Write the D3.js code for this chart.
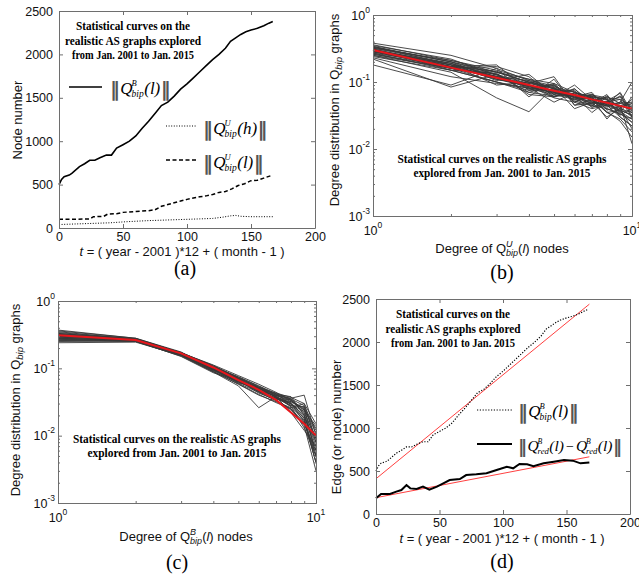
<!DOCTYPE html>
<html>
<head>
<meta charset="utf-8">
<script src="https://cdn.jsdelivr.net/npm/d3@7"></script>
<style>
  body { margin: 0; background: #fff; }
  svg { display: block; }
</style>
</head>
<body>
<div id="fig"></div>
<script>
// ---- data ----
// (a) node counts, t = months since Jan 2001
const nodeBipB = [[0,500],[2,560],[4,590],[8,610],[10,630],[16,707],[20,740],[24,780],[28,780],[32,810],[37,840],[41,840],[45,920],[50,960],[55,1000],[60,1060],[65,1150],[70,1230],[75,1320],[80,1410],[85,1450],[90,1520],[95,1600],[100,1660],[105,1730],[110,1800],[115,1870],[120,1940],[125,2000],[130,2070],[134,2150],[138,2190],[142,2230],[146,2260],[150,2280],[155,2300],[160,2330],[164,2360],[167,2380]];
const nodeBipUh = [[0,40],[10,45],[20,50],[30,55],[40,60],[50,70],[60,78],[70,85],[80,90],[90,95],[100,100],[110,105],[120,110],[128,125],[134,140],[138,145],[142,135],[150,130],[160,130],[167,130]];
const nodeBipUl = [[0,100],[10,100],[24,105],[27,130],[35,135],[38,160],[45,165],[50,180],[60,190],[70,200],[75,210],[80,250],[85,270],[90,290],[95,310],[100,330],[105,345],[110,360],[115,370],[120,385],[125,410],[130,420],[135,450],[140,490],[145,510],[150,545],[155,550],[160,575],[167,610]];
// (d) edges of the difference graph, plus the two red fits
const edgeRedDiff = [[0,182],[4,233],[11,233],[16,260],[20,279],[24,337],[27,298],[32,290],[37,318],[42,282],[48,318],[53,357],[58,395],[66,407],[71,453],[79,461],[87,473],[95,512],[103,550],[108,531],[113,581],[119,578],[124,555],[132,589],[140,608],[148,628],[155,620],[161,589],[168,600]];
const fitBipB = [[0,410],[168,2440]];
const fitRedDiff = [[0,190],[168,665]];

// (b),(c) degree distributions, one row per monthly snapshot
const degrees = [1,2,3,4,5,6,7,8,9,10];
const distUCurves = [
  [0.34,0.20,0.13,0.095,0.080,0.066,0.056,0.050,0.045,0.038],
  [0.32,0.19,0.12,0.090,0.072,0.062,0.058,0.046,0.040,0.035],
  [0.30,0.18,0.14,0.10,0.085,0.070,0.060,0.055,0.042,0.030],
  [0.28,0.17,0.11,0.085,0.068,0.060,0.050,0.044,0.038,0.032],
  [0.26,0.16,0.12,0.088,0.075,0.058,0.048,0.052,0.036,0.028],
  [0.24,0.15,0.10,0.080,0.065,0.055,0.045,0.040,0.034,0.025],
  [0.22,0.084,0.13,0.070,0.090,0.050,0.040,0.045,0.030,0.022],
  [0.18,0.09,0.16,0.060,0.11,0.045,0.055,0.035,0.028,0.018],
  [0.36,0.21,0.15,0.11,0.078,0.072,0.052,0.060,0.048,0.042],
  [0.33,0.20,0.11,0.092,0.060,0.068,0.062,0.042,0.050,0.045],
  [0.31,0.17,0.18,0.075,0.095,0.050,0.065,0.048,0.035,0.060],
  [0.29,0.16,0.17,0.12,0.060,0.080,0.045,0.058,0.055,0.030],
  [0.27,0.18,0.09,0.10,0.070,0.060,0.070,0.038,0.044,0.050],
  [0.25,0.14,0.058,0.036,0.085,0.040,0.050,0.030,0.040,0.020],
  [0.35,0.22,0.125,0.085,0.070,0.056,0.060,0.055,0.032,0.040],
  [0.30,0.19,0.105,0.13,0.065,0.075,0.042,0.050,0.060,0.034],
  [0.29,0.17,0.12,0.095,0.12,0.045,0.048,0.065,0.036,0.025],
  [0.27,0.15,0.135,0.065,0.060,0.090,0.054,0.036,0.026,0.015],
  [0.32,0.21,0.14,0.10,0.082,0.064,0.035,0.052,0.068,0.030],
  [0.23,0.12,0.095,0.082,0.050,0.070,0.058,0.028,0.045,0.012],
  [0.38,0.25,0.16,0.105,0.088,0.058,0.066,0.045,0.050,0.100],
  [0.31,0.18,0.13,0.078,0.092,0.052,0.044,0.062,0.040,0.055],
  [0.26,0.17,0.11,0.09,0.066,0.078,0.05,0.046,0.07,0.036],
  [0.28,0.19,0.12,0.105,0.072,0.062,0.056,0.04,0.033,0.028],
  [0.34,0.18,0.115,0.088,0.058,0.05,0.062,0.055,0.042,0.048],
  [0.3,0.16,0.13,0.082,0.07,0.065,0.047,0.05,0.055,0.042],
  [0.25,0.16,0.1,0.075,0.078,0.054,0.06,0.035,0.038,0.032],
  [0.33,0.2,0.14,0.11,0.095,0.07,0.052,0.044,0.048,0.05],
  [0.29,0.17,0.145,0.098,0.08,0.058,0.064,0.058,0.03,0.022],
  [0.31,0.15,0.1,0.07,0.062,0.066,0.042,0.048,0.062,0.038]
];
const distUFit = [0.30,0.164,0.116,0.090,0.074,0.064,0.055,0.049,0.044,0.040];
const distBCurves = [
  [0.37,0.28,0.17,0.105,0.07,0.05,0.038,0.03,0.02,0.006],
  [0.35,0.27,0.165,0.10,0.068,0.046,0.036,0.028,0.018,0.005],
  [0.33,0.275,0.17,0.11,0.072,0.052,0.04,0.032,0.024,0.008],
  [0.32,0.27,0.16,0.098,0.064,0.045,0.035,0.03,0.016,0.004],
  [0.30,0.265,0.168,0.104,0.075,0.055,0.042,0.035,0.028,0.012],
  [0.29,0.26,0.162,0.095,0.06,0.044,0.033,0.025,0.014,0.003],
  [0.28,0.255,0.158,0.09,0.058,0.04,0.032,0.026,0.03,0.015],
  [0.27,0.25,0.155,0.088,0.055,0.026,0.038,0.022,0.012,0.007],
  [0.26,0.26,0.16,0.092,0.062,0.05,0.04,0.036,0.04,0.01],
  [0.25,0.255,0.15,0.086,0.066,0.048,0.036,0.034,0.022,0.009],
  [0.24,0.245,0.155,0.094,0.07,0.046,0.035,0.032,0.026,0.005],
  [0.31,0.27,0.172,0.108,0.074,0.054,0.041,0.038,0.02,0.006],
  [0.33,0.265,0.166,0.1,0.065,0.047,0.039,0.027,0.017,0.004],
  [0.3,0.27,0.17,0.112,0.078,0.058,0.044,0.033,0.025,0.011],
  [0.28,0.26,0.164,0.102,0.069,0.051,0.037,0.031,0.019,0.008],
  [0.36,0.28,0.175,0.096,0.063,0.049,0.042,0.029,0.023,0.013],
  [0.34,0.275,0.168,0.106,0.071,0.053,0.04,0.035,0.021,0.007],
  [0.27,0.26,0.16,0.097,0.066,0.043,0.034,0.024,0.015,0.006],
  [0.29,0.265,0.163,0.099,0.061,0.05,0.038,0.028,0.027,0.009],
  [0.31,0.26,0.158,0.093,0.067,0.045,0.036,0.03,0.018,0.004],
  [0.32,0.275,0.17,0.107,0.073,0.052,0.043,0.037,0.03,0.008],
  [0.26,0.25,0.152,0.089,0.059,0.041,0.031,0.025,0.016,0.005],
  [0.30,0.262,0.166,0.101,0.07,0.047,0.039,0.034,0.024,0.014],
  [0.28,0.258,0.161,0.096,0.064,0.052,0.037,0.027,0.013,0.005]
];
const distBFit = [0.31,0.263,0.167,0.103,0.067,0.048,0.034,0.022,0.015,0.010];

const linXTicks = [0,50,100,150,200];
const linYTicks = [0,500,1000,1500,2000,2500];
const logXTicks = [1,10];
const logYTicks = [0.001,0.01,0.1,1];

const noteLines3 = ["Statistical curves on the", "realistic AS graphs explored", "from Jan. 2001 to Jan. 2015"];
const noteLines2 = ["Statistical curves on the realistic AS graphs", "explored from Jan. 2001 to Jan. 2015"];

// ---- drawing ----
const SANS = "'Liberation Sans', Arial, sans-serif";
const SERIF = "'Liberation Serif', 'Times New Roman', serif";
const AXIS_COL = '#6e6e6e';

const svg = d3.select('#fig').append('svg').attr('width', 639).attr('height', 578);
svg.append('rect').attr('width', 639).attr('height', 578).attr('fill', '#fff');

function styleAxis(g) {
  g.selectAll('.domain').attr('stroke', AXIS_COL);
  g.selectAll('.tick line').attr('stroke', AXIS_COL);
  g.selectAll('text').attr('font-family', SANS).attr('font-size', 12.5).attr('fill', '#111');
}

function linPanel(b) {
  const x = d3.scaleLinear().domain([0, 200]).range([b.left, b.right]);
  const y = d3.scaleLinear().domain([0, 2500]).range([b.bottom, b.top]);
  const g = svg.append('g');
  const plot = g.append('g');
  const ax = g.append('g');
  ax.append('g').attr('transform', `translate(0,${b.bottom})`)
    .call(d3.axisBottom(x).tickValues(linXTicks).tickFormat(d3.format('d')).tickSizeInner(-4).tickSizeOuter(0).tickPadding(4));
  ax.append('g').attr('transform', `translate(0,${b.top})`)
    .call(d3.axisTop(x).tickValues(linXTicks).tickFormat('').tickSizeInner(-4).tickSizeOuter(0));
  ax.append('g').attr('transform', `translate(${b.left},0)`)
    .call(d3.axisLeft(y).tickValues(linYTicks).tickFormat(d3.format('d')).tickSizeInner(-4).tickSizeOuter(0).tickPadding(6));
  ax.append('g').attr('transform', `translate(${b.right},0)`)
    .call(d3.axisRight(y).tickValues(linYTicks).tickFormat('').tickSizeInner(-4).tickSizeOuter(0));
  styleAxis(ax);
  const line = d3.line().x(d => x(d[0])).y(d => y(d[1]));
  return { plot, x, y, line };
}

function logPanel(b) {
  const x = d3.scaleLog().domain([1, 10]).range([b.left, b.right]);
  const y = d3.scaleLog().domain([1e-3, 1]).range([b.bottom, b.top]);
  const g = svg.append('g');
  const plot = g.append('g');
  const ax = g.append('g');
  const xMinor = d3.range(2, 10);
  const yMinor = [];
  [1e-3, 1e-2, 1e-1].forEach(p => d3.range(2, 10).forEach(k => yMinor.push(k * p)));

  const sides = [
    [d3.axisBottom(x), `translate(0,${b.bottom})`, logXTicks, xMinor],
    [d3.axisTop(x), `translate(0,${b.top})`, logXTicks, xMinor],
    [d3.axisLeft(y), `translate(${b.left},0)`, logYTicks, yMinor],
    [d3.axisRight(y), `translate(${b.right},0)`, logYTicks, yMinor]
  ];
  sides.forEach(([axis, tr, major, minor]) => {
    ax.append('g').attr('transform', tr)
      .call(axis.tickValues(major).tickFormat('').tickSizeInner(-4).tickSizeOuter(0));
    ax.append('g').attr('transform', tr)
      .call(axis.tickValues(minor).tickFormat('').tickSizeInner(-2).tickSizeOuter(0));
  });
  styleAxis(ax);

  const power = v => Math.round(Math.log10(v));
  const yl = ax.selectAll('text.ylab').data(logYTicks).join('text')
    .attr('class', 'ylab')
    .attr('x', b.left - 3).attr('y', d => y(d) + 4.5)
    .attr('text-anchor', 'end')
    .attr('font-family', SANS).attr('font-size', 12.5).attr('fill', '#111')
    .text('10');
  yl.append('tspan').attr('dy', -7).attr('font-size', 8.5).text(d => power(d));

  const xl = ax.selectAll('text.xlab').data(logXTicks).join('text')
    .attr('class', 'xlab')
    .attr('x', d => x(d)).attr('y', b.bottom + 18.5)
    .attr('text-anchor', 'middle')
    .attr('font-family', SANS).attr('font-size', 12.5).attr('fill', '#111')
    .text('10');
  xl.append('tspan').attr('dy', -6.5).attr('font-size', 8.5).text(d => power(d));

  const line = d3.line().x((d, i) => x(degrees[i])).y(d => y(d));
  return { plot, x, y, line };
}

function note(lines, cx, baselines, widths) {
  lines.forEach((s, i) => {
    svg.append('text')
      .attr('x', cx).attr('y', baselines[i])
      .attr('text-anchor', 'middle')
      .attr('font-family', SERIF).attr('font-weight', 'bold').attr('font-size', 12.5)
      .attr('textLength', widths[i]).attr('lengthAdjust', 'spacingAndGlyphs')
      .attr('fill', '#000')
      .text(s);
  });
}

// draws ||Q^sup_sub(arg) - ...|| as separate text pieces
function normLabel(x, y, terms, size) {
  const s = size || 17;
  const g = svg.append('g');
  let cx = x;
  const put = (txt, fs, italic, dy, opts) => {
    const t = g.append('text').attr('x', cx).attr('y', y + (dy || 0))
      .attr('font-family', (opts && opts.family) || SERIF).attr('font-size', fs)
      .attr('font-style', italic ? 'italic' : 'normal')
      .attr('font-weight', (opts && opts.weight) || 'normal')
      .attr('fill', (opts && opts.fill) || '#000')
      .text(txt);
    return t.node().getComputedTextLength();
  };
  const bar = { family: "'DejaVu Sans', sans-serif", weight: 'bold', fill: '#555' };
  cx += put('\u2016', s * 1.15, false, 2, bar) + 0.5;
  terms.forEach((tm, i) => {
    if (i > 0) { cx += 2; cx += put('\u2212', s * 0.9, false, 0) + 2; }
    cx += put('Q', s, true, 0) - 1;
    const w1 = put(tm.sup, s * 0.5, true, -s * 0.47);
    const w2 = put(tm.sub, s * 0.56, true, s * 0.18);
    cx += Math.max(w1, w2) + 0.5;
    cx += put('(' + tm.arg + ')', s, true, 0);
  });
  cx += 0.5;
  put('\u2016', s * 1.15, false, 2, bar);
}

function legendSample(x1, x2, y, dash, width) {
  svg.append('line').attr('x1', x1).attr('x2', x2).attr('y1', y).attr('y2', y)
    .attr('stroke', '#000').attr('stroke-width', width)
    .attr('stroke-dasharray', dash);
}

function yTitle(x, y, build) {
  const t = svg.append('text')
    .attr('transform', `translate(${x},${y}) rotate(-90)`)
    .attr('text-anchor', 'middle')
    .attr('font-family', SANS).attr('font-size', 13).attr('fill', '#111');
  build(t);
}
function xTitle(x, y, build) {
  const t = svg.append('text')
    .attr('x', x).attr('y', y)
    .attr('text-anchor', 'middle')
    .attr('font-family', SANS).attr('font-size', 13).attr('fill', '#111');
  build(t);
}
function tTitle(t) {
  t.append('tspan').attr('font-style', 'italic').text('t');
  t.append('tspan').text(' = ( year - 2001 )*12 + ( month - 1 )');
}
function degreeTitle(sup, supW) {
  return t => {
    t.append('tspan').text('Degree of Q');
    t.append('tspan').attr('font-size', 9).attr('font-style', 'italic').attr('dy', -6).text(sup);
    t.append('tspan').attr('font-size', 9).attr('font-style', 'italic').attr('dx', -supW).attr('dy', 9).text('bip');
    t.append('tspan').attr('dy', -3).text('(');
    t.append('tspan').attr('font-style', 'italic').text('l');
    t.append('tspan').text(') nodes');
  };
}
function panelTag(x, y, s) {
  svg.append('text').attr('x', x).attr('y', y).attr('text-anchor', 'middle')
    .attr('font-family', SERIF).attr('font-size', 20).attr('fill', '#000').text(s);
}

// ---- (a) ----
const pa = linPanel({ left: 59, right: 315, top: 11, bottom: 228 });
pa.plot.append('path').attr('d', pa.line(nodeBipB)).attr('fill', 'none').attr('stroke', '#000').attr('stroke-width', 1.6);
pa.plot.append('path').attr('d', pa.line(nodeBipUl)).attr('fill', 'none').attr('stroke', '#000').attr('stroke-width', 1.5).attr('stroke-dasharray', '4,2.5');
pa.plot.append('path').attr('d', pa.line(nodeBipUh)).attr('fill', 'none').attr('stroke', '#000').attr('stroke-width', 1).attr('stroke-dasharray', '1,1.6');
note(noteLines3, 133, [30, 44.5, 59], [114, 136, 122]);
legendSample(69, 102, 87, null, 1.5);
normLabel(110, 94, [{ sup: 'B', sub: 'bip', arg: 'l' }]);
legendSample(166, 197, 126, '1,1.6', 1);
normLabel(203, 134, [{ sup: 'U', sub: 'bip', arg: 'h' }]);
legendSample(166, 198, 160, '4,2.5', 1.5);
normLabel(203, 168, [{ sup: 'U', sub: 'bip', arg: 'l' }]);
yTitle(22, 120, t => t.text('Node number'));
xTitle(182, 255.5, tTitle);
panelTag(185, 275, '(a)');

// ---- (b) ----
const pb = logPanel({ left: 373, right: 632, top: 15, bottom: 216 });
pb.plot.selectAll('path.curve').data(distUCurves).join('path')
  .attr('class', 'curve').attr('d', pb.line)
  .attr('fill', 'none').attr('stroke', '#383838').attr('stroke-width', 0.9);
pb.plot.append('path').attr('d', pb.line(distUFit)).attr('fill', 'none').attr('stroke', '#e8161b').attr('stroke-width', 2);
note(noteLines2, 502, [163, 177], [209, 177]);
yTitle(339, 110, t => {
  t.append('tspan').text('Degree distribution in Q');
  t.append('tspan').attr('font-size', 9.5).attr('font-style', 'italic').attr('dy', 3).text('bip');
  t.append('tspan').attr('dy', -3).text(' graphs');
});
xTitle(502, 253, degreeTitle('U', 6.5));
panelTag(502, 279, '(b)');

// ---- (c) ----
const pc = logPanel({ left: 58, right: 316, top: 301, bottom: 503 });
pc.plot.selectAll('path.curve').data(distBCurves).join('path')
  .attr('class', 'curve').attr('d', pc.line)
  .attr('fill', 'none').attr('stroke', '#383838').attr('stroke-width', 0.9);
pc.plot.append('path').attr('d', pc.line(distBFit)).attr('fill', 'none').attr('stroke', '#e8161b').attr('stroke-width', 2);
note(noteLines2, 177, [443, 457], [208, 179]);
yTitle(20, 400, t => {
  t.append('tspan').text('Degree distribution in Q');
  t.append('tspan').attr('font-size', 9.5).attr('font-style', 'italic').attr('dy', 3).text('bip');
  t.append('tspan').attr('dy', -3).text(' graphs');
});
xTitle(186, 541, degreeTitle('B', 6));
panelTag(177, 569, '(c)');

// ---- (d) ----
const pd = linPanel({ left: 376, right: 630, top: 299, bottom: 514 });
pd.plot.append('path').attr('d', pd.line(fitBipB)).attr('fill', 'none').attr('stroke', '#ff4040').attr('stroke-width', 1);
pd.plot.append('path').attr('d', pd.line(fitRedDiff)).attr('fill', 'none').attr('stroke', '#ff4040').attr('stroke-width', 1);
pd.plot.append('path').attr('d', pd.line(nodeBipB)).attr('fill', 'none').attr('stroke', '#000').attr('stroke-width', 1.2).attr('stroke-dasharray', '1.2,1.6');
pd.plot.append('path').attr('d', pd.line(edgeRedDiff)).attr('fill', 'none').attr('stroke', '#000').attr('stroke-width', 2);
note(noteLines3, 453, [318, 333, 347], [114, 135, 124]);
legendSample(477, 512, 410, '1.2,1.6', 1.2);
normLabel(518, 417, [{ sup: 'B', sub: 'bip', arg: 'l' }]);
legendSample(477, 512, 444, null, 2);
normLabel(518, 451, [{ sup: 'B', sub: 'red', arg: 'l' }, { sup: 'B', sub: 'red', arg: 'l' }], 15.5);
yTitle(341, 427, t => t.text('Edge (or node) number'));
xTitle(502, 542.5, tTitle);
panelTag(502, 568, '(d)');
</script>
</body>
</html>
